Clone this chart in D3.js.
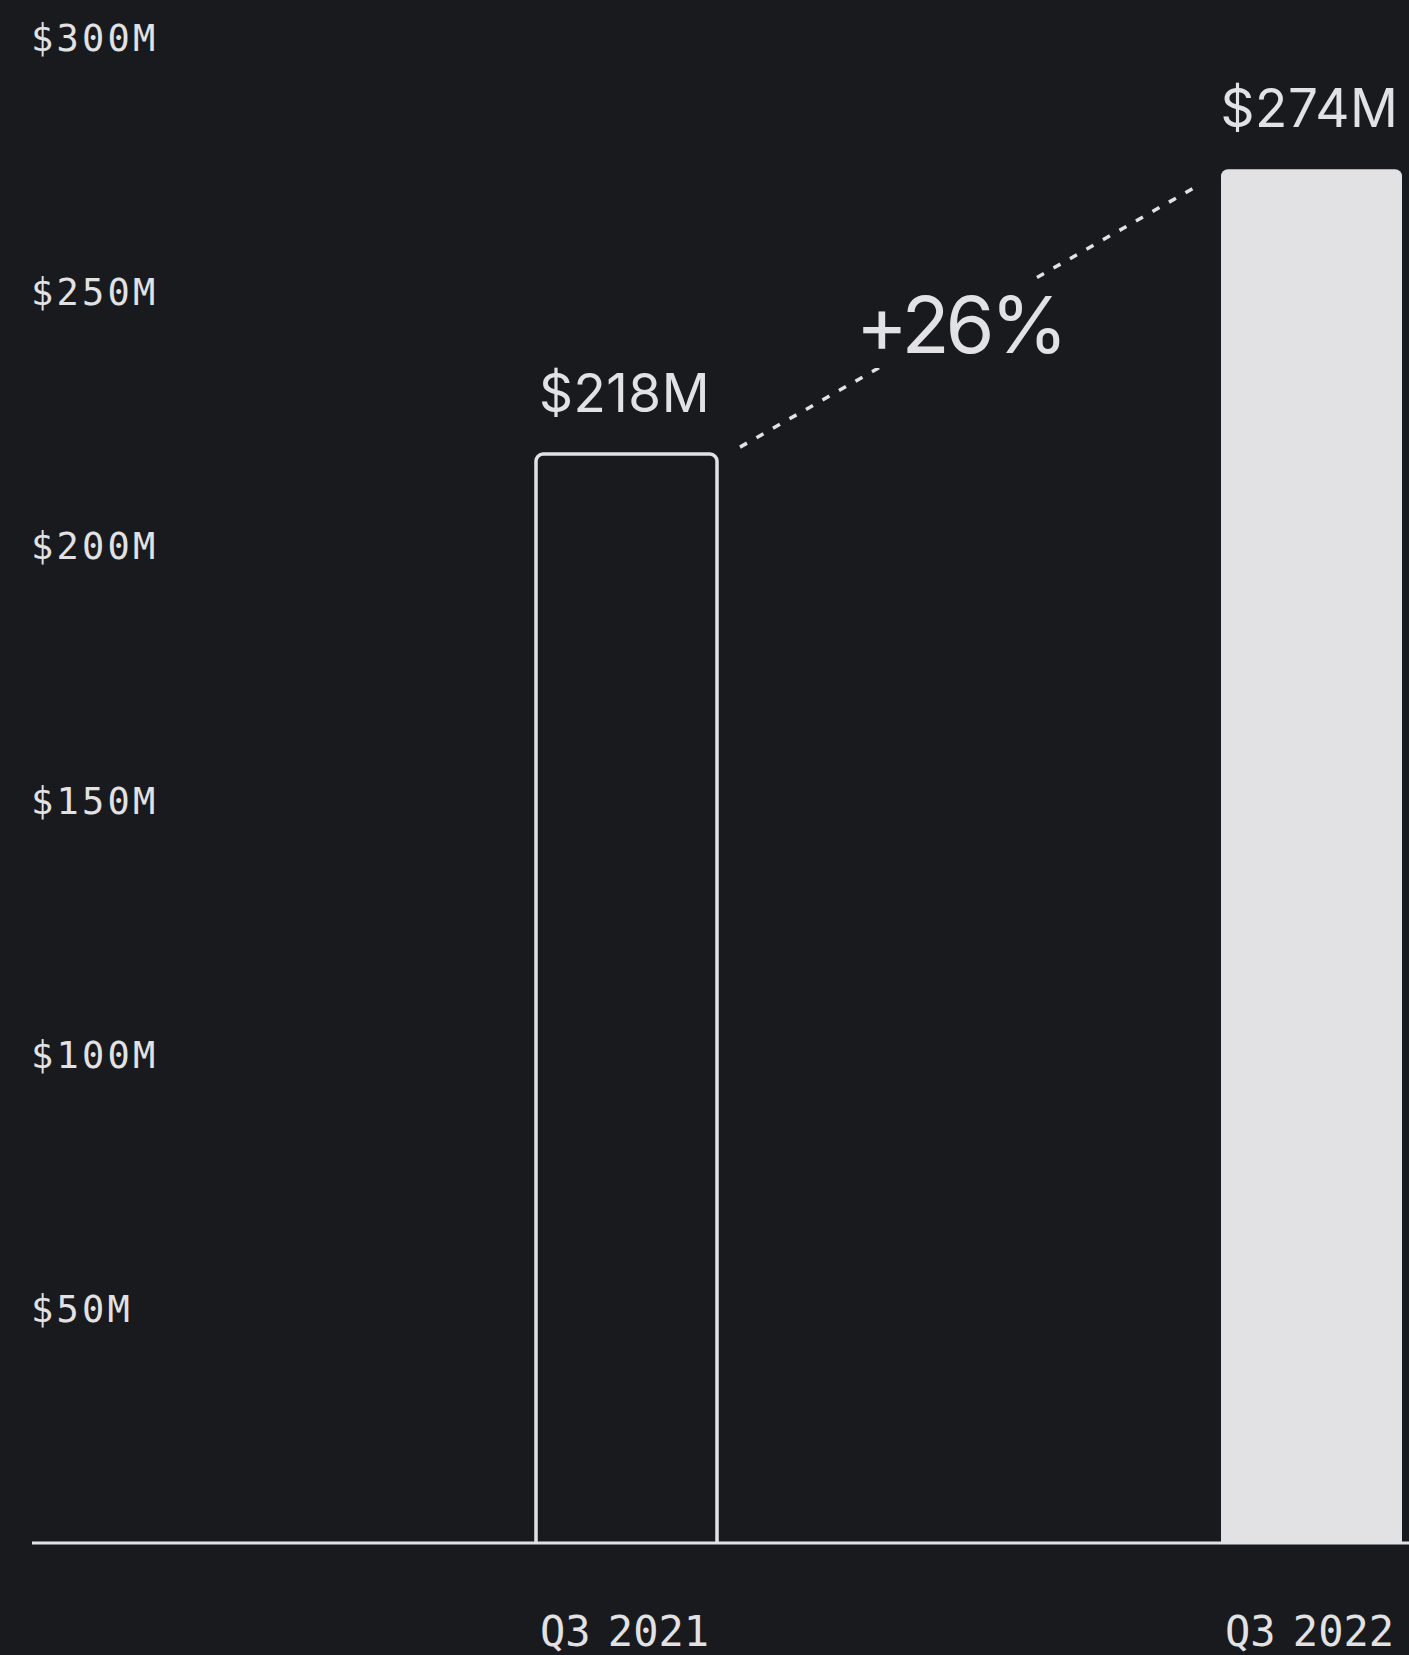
<!DOCTYPE html>
<html>
<head>
<meta charset="utf-8">
<script src="https://cdn.jsdelivr.net/npm/d3@7"></script>
<style>
  html, body { margin: 0; padding: 0; background: #191a1e; }
  svg { display: block; }
</style>
</head>
<body>
<main></main>
<script>
// data
const categories = ['Q3 2021', 'Q3 2022'];
const revenue = [218, 274];
const valueLabels = ['$218M', '$274M'];
const tickValues = [50, 100, 150, 200, 250, 300];
const tickLabels = ['$50M', '$100M', '$150M', '$200M', '$250M', '$300M'];
const growthLabel = '+26%';

const width = 1409;
const height = 1655;
const bg = '#191a1e';
const fg = '#e2e2e4';
const baseline = 1543;
const barWidth = 181;

const svg = d3.select('main').append('svg')
    .attr('width', width)
    .attr('height', height);

const y = d3.scaleLinear()
    .domain([0, 300])
    .range([1563, 37]);

const x = d3.scalePoint()
    .domain(categories)
    .range([626.5, 1311.5]);

// y tick labels
svg.append('g')
  .selectAll('text')
  .data(tickValues)
  .enter().append('text')
    .attr('x', 31)
    .attr('y', d => y(d) + 13.5)
    .attr('fill', fg)
    .attr('font-family', '"DejaVu Sans Mono", monospace')
    .attr('font-size', '37px')
    .attr('letter-spacing', '3.2px')
    .text((d, i) => tickLabels[i]);

// bars, clipped at the axis line so only top corners are rounded
svg.append('clipPath')
    .attr('id', 'plot-clip')
  .append('rect')
    .attr('x', 0)
    .attr('y', 0)
    .attr('width', width)
    .attr('height', baseline);

const bars = categories.map((c, i) => ({ cat: c, value: revenue[i], label: valueLabels[i], i }));

svg.append('g')
    .attr('clip-path', 'url(#plot-clip)')
  .selectAll('rect')
  .data(bars)
  .enter().append('rect')
    .attr('x', d => x(d.cat) - barWidth / 2)
    .attr('y', d => y(d.value))
    .attr('width', barWidth)
    .attr('height', d => baseline + 20 - y(d.value))
    .attr('rx', 7)
    .attr('fill', d => d.i === 0 ? bg : fg)
    .attr('stroke', d => d.i === 0 ? fg : 'none')
    .attr('stroke-width', 3.5);

// axis line
svg.append('line')
    .attr('x1', 32)
    .attr('x2', width)
    .attr('y1', baseline)
    .attr('y2', baseline)
    .attr('stroke', fg)
    .attr('stroke-width', 3);

// value labels
svg.append('g')
  .selectAll('text')
  .data(bars)
  .enter().append('text')
    .attr('x', d => x(d.cat) - 2)
    .attr('y', d => y(d.value) - 42)
    .attr('text-anchor', 'middle')
    .attr('fill', fg)
    .attr('font-family', 'Inter, "Noto Sans", sans-serif')
    .attr('font-size', '53px')
    .attr('letter-spacing', '0.5px')
    .text(d => d.label);

// x labels
svg.append('g')
  .selectAll('text')
  .data(categories)
  .enter().append('text')
    .attr('x', d => x(d) - 2)
    .attr('y', 1646)
    .attr('text-anchor', 'middle')
    .attr('fill', fg)
    .attr('font-family', '"DejaVu Sans Mono", monospace')
    .attr('font-size', '42px')
    .attr('word-spacing', '-8px')
    .text(d => d);

// growth connector
const p1 = [x(categories[0]) + barWidth / 2 + 23, y(revenue[0]) - 7];
const p2 = [x(categories[1]) - barWidth / 2 - 19, y(revenue[1]) + 14];

svg.append('line')
    .attr('x1', p1[0])
    .attr('y1', p1[1])
    .attr('x2', p2[0])
    .attr('y2', p2[1])
    .attr('stroke', fg)
    .attr('stroke-width', 3.5)
    .attr('stroke-dasharray', '8 11');

const growth = svg.append('g');
const gText = growth.append('text')
    .attr('x', 960)
    .attr('y', 353)
    .attr('text-anchor', 'middle')
    .attr('fill', fg)
    .attr('font-family', 'Inter, "Noto Sans", sans-serif')
    .attr('font-size', '79px')
    .attr('letter-spacing', '-4px')
    .text(growthLabel);

const bb = gText.node().getBBox();
growth.insert('rect', 'text')
    .attr('x', bb.x)
    .attr('y', bb.y + 4)
    .attr('width', bb.width)
    .attr('height', bb.height - 8)
    .attr('fill', bg);
</script>
</body>
</html>
